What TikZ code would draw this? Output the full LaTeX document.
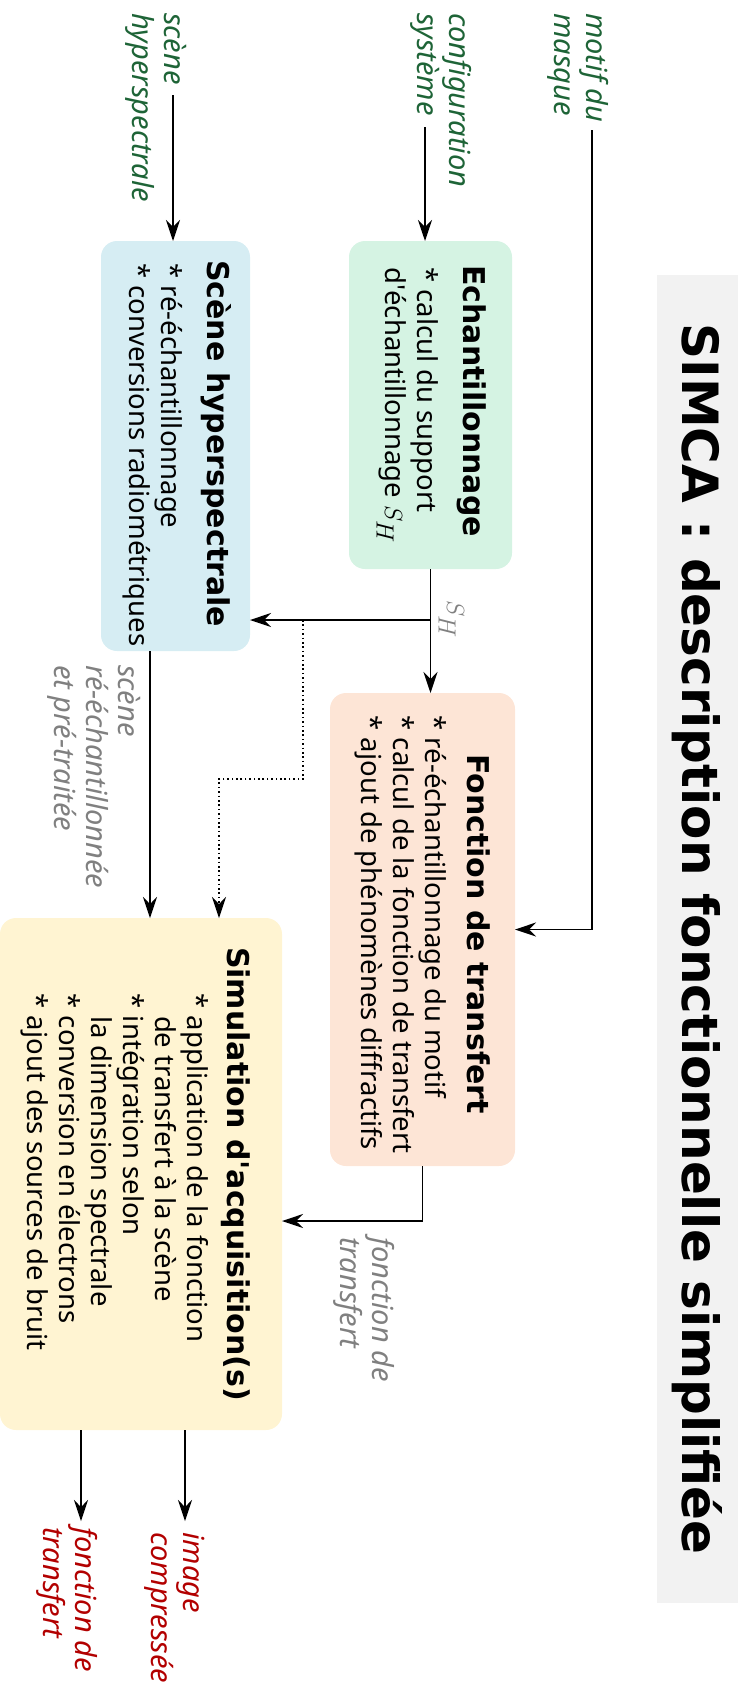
\documentclass[tikz,border=0pt]{standalone}
\usepackage{fontspec}
\setmainfont{Noto Sans}
\newfontfamily\titlefont{DejaVu Sans}
\usetikzlibrary{arrows.meta,calc}
\definecolor{cech}{RGB}{213,243,227}
\definecolor{cscene}{RGB}{214,237,243}
\definecolor{cfonc}{RGB}{253,229,214}
\definecolor{csimu}{RGB}{255,244,210}
\definecolor{ctitle}{RGB}{242,242,242}
\definecolor{lgreen}{RGB}{30,100,55}
\definecolor{lred}{RGB}{178,0,0}
\definecolor{lgrey}{RGB}{128,128,128}
\newcommand\bul{*\ }
\newcommand\stk[1]{\vtop{\baselineskip=32pt\lineskiplimit=-100pt\halign{##\hfil\cr#1\crcr}}}
\newcommand\SH{{\fontsize{34}{34}\selectfont$S_H$}}
\begin{document}
\begin{tikzpicture}[x=1pt,y=1pt,rotate=-90,transform shape,
  box/.style={rounded corners=16pt, inner sep=0pt, outer sep=0pt},
  ttl/.style={font=\titlefont\fontsize{30}{36}\selectfont\bfseries, inner sep=0pt, anchor=base},
  body/.style={font=\fontsize{27.5}{32}\selectfont, inner sep=0pt, anchor=base west},
  lab/.style={font=\fontsize{29}{32}\selectfont\itshape, inner sep=0pt, anchor=base west},
  arr/.style={line width=1.6pt, -{Stealth[length=21pt,width=14pt,inset=7pt]}},
  dotline/.style={line width=1.6pt, dash pattern=on 1.6pt off 2.8pt}
]
\useasboundingbox (0,0) rectangle (1690,741);
% title
\node[fill=ctitle, inner sep=0pt, minimum width=1328pt, minimum height=81pt] (title) at (939,697.5) {};
\node[font=\titlefont\fontsize{50}{58}\selectfont\bfseries, inner sep=0pt, anchor=base] (titlet) at (939,682) {SIMCA : description fonctionnelle simplifiée};
% boxes
\node[box, fill=cech, minimum width=328pt, minimum height=163pt] (ech) at (405,430.5) {};
\node[box, fill=cscene, minimum width=410pt, minimum height=149pt] (scene) at (446,175.5) {};
\node[box, fill=cfonc, minimum width=473pt, minimum height=185pt] (fonc) at (929.5,422.5) {};
\node[box, fill=csimu, minimum width=512pt, minimum height=282pt] (simu) at (1174,141) {};
% box texts
\node[ttl, anchor=base west] (echt) at (265,463) {Echantillonnage};
\node[body] (echb) at (267,417) {\stk{\bul calcul du support\cr d\textquotesingle échantillonnage \SH}};
\node[ttl, anchor=base west] (scenet) at (260,207) {Scène hyperspectrale};
\node[body] (sceneb) at (263,161) {\stk{\bul ré-échantillonnage\cr \bul conversions radiométriques}};
\node[ttl] (fonct) at (934,467) {Fonction de transfert};
\node[body] (foncb) at (715.5,425) {\stk{\bul ré-échantillonnage du motif\cr \bul calcul de la fonction de transfert\cr \bul ajout de phénomènes diffractifs}};
\node[ttl] (simut) at (1174,227) {Simulation d\textquotesingle acquisition(s)};
\node[body] (simub) at (993.5,187) {\stk{\bul application de la fonction\cr \hphantom{\bul}de transfert à la scène\cr \bul intégration selon\cr \hphantom{\bul}la dimension spectrale\cr \bul conversion en électrons\cr \bul ajout des sources de bruit}};
% labels
\node[lab, text=lgreen] (lscene) at (13,164) {\stk{scène\cr hyperspectrale}};
\node[lab, text=lgreen] (lconf) at (13,449) {\stk{configuration\cr système}};
\node[lab, text=lgreen] (lmotif) at (13,586) {\stk{motif du\cr masque}};
\node[lab, text=lgrey] (lsr) at (665,118) {\stk{scène\cr ré-échantillonnée\cr et pré-traitée}};
\node[lab, text=lgrey] (lft) at (1237,372) {\stk{fonction de\cr transfert}};
\node[lab, text=lred] (lout1) at (1527,75) {\stk{fonction de\cr transfert}};
\node[lab, text=lred] (lout2) at (1532,183) {\stk{image\cr compressée}};
\node[text=lgrey, inner sep=0pt, anchor=base west] (lsh) at (600,447) {\SH};
% coordinates
\coordinate (sin) at (95,173);
\coordinate (cin) at (127,425);
\coordinate (min) at (130,592);
\coordinate (y150) at (0,150);
\coordinate (dA) at (620,303);
\coordinate (dB) at (779,219);
\coordinate (fB) at (1221,0);
\coordinate (o1) at (1521,81);
\coordinate (o2) at (1521,185);
% connectors
\draw[arr] (sin) -- (sin -| scene.west);
\draw[arr] (cin) -- (cin -| ech.west);
\draw[arr] (min) -| (fonc.north);
\draw[arr] (ech.east) -- (ech.east -| fonc.west);
\coordinate (br) at ($(ech.east)+(51,0)$);
\draw[arr] (br) -- (br |- scene.north);
\draw[dotline, -{Stealth[length=21pt,width=14pt,inset=7pt]}] (dA) -| (dB) -- (dB -| simu.west);
\coordinate (ssc) at (scene.east |- y150);
\draw[arr] (ssc) -- (ssc -| simu.west);
\draw[arr] (fonc.east) -- (fonc.east -| fB) -- (fB |- simu.north);
\draw[arr] (simu.east |- o1) -- (o1);
\draw[arr] (simu.east |- o2) -- (o2);
\end{tikzpicture}
\end{document}
